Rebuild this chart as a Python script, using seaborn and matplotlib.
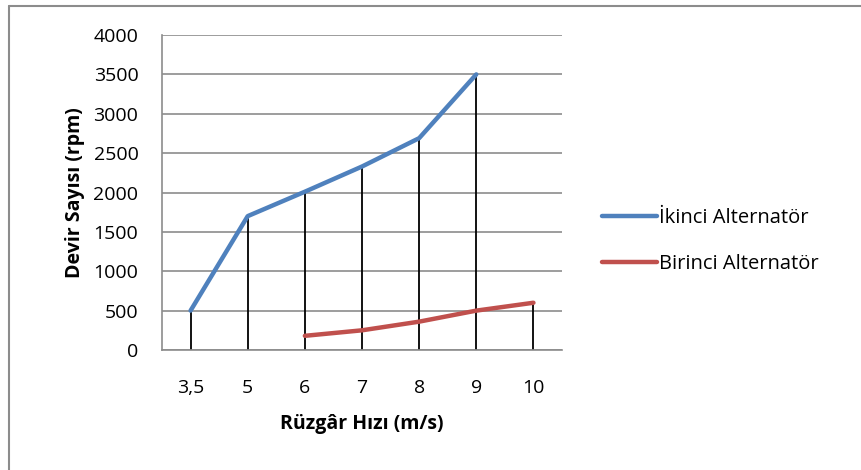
import pandas as pd
import matplotlib
matplotlib.use("Agg")
import matplotlib.pyplot as plt
import seaborn as sns

# --- Dados ---
categorias = ["3,5", "5", "6", "7", "8", "9", "10"]
ikinci = [500, 1700, 2010, 2330, 2690, 3500, None]
birinci = [None, None, 180, 250, 360, 500, 600]
series_nomes = ["İkinci Alternatör", "Birinci Alternatör"]
cores = ["#4F81BD", "#C0504D"]
y_ticks = [0, 500, 1000, 1500, 2000, 2500, 3000, 3500, 4000]

linhas = []
for nome, valores in zip(series_nomes, [ikinci, birinci]):
    for i, v in enumerate(valores):
        if v is not None:
            linhas.append({"pos": i, "valor": v, "serie": nome})
df = pd.DataFrame(linhas)

sns.set_theme(style="white")
plt.rcParams["font.family"] = ["Open Sans", "DejaVu Sans"]
plt.rcParams["text.color"] = "black"
plt.rcParams["axes.labelcolor"] = "black"
plt.rcParams["xtick.color"] = "black"
plt.rcParams["ytick.color"] = "black"

fig = plt.figure(figsize=(8.61, 4.70), dpi=100)
ax = fig.add_axes([162 / 861, 1 - 350 / 470, 400 / 861, 315 / 470])

# drop lines (linhas verticais até o eixo)
topo = df.groupby("pos")["valor"].max()
ax.vlines(topo.index, 0, topo.values, color="black", lw=1.3, zorder=2)

sns.lineplot(data=df, x="pos", y="valor", hue="serie", hue_order=series_nomes,
             palette=cores, lw=3.2, ax=ax, legend=False, zorder=3,
             solid_capstyle="round")

ax.set_xlim(-0.5, len(categorias) - 0.5)
ax.set_ylim(0, 4000)
ax.set_yticks(y_ticks)
ax.set_xticks(range(len(categorias)))
ax.set_xticklabels(categorias)
ax.yaxis.grid(True, color="#8c8c8c", lw=1.2)
ax.set_axisbelow(True)
for lado in ["top", "right"]:
    ax.spines[lado].set_visible(False)
for lado in ["left", "bottom"]:
    ax.spines[lado].set_color("#8c8c8c")
    ax.spines[lado].set_linewidth(1.2)
ax.tick_params(axis="y", length=5, color="#8c8c8c", width=1, labelsize=14, pad=12)
ax.tick_params(axis="x", length=0, labelsize=14, pad=21)

ax.set_xlabel("Rüzgâr Hızı (m/s)", fontsize=14, fontweight="bold", labelpad=12)
ax.set_ylabel("Devir Sayısı (rpm)", fontsize=14, fontweight="bold", labelpad=6)

handles = [plt.Line2D([], [], color=c, lw=3.2, solid_capstyle="round") for c in cores]
fig.legend(handles, series_nomes, loc="center left", bbox_to_anchor=(584 / 861, 1 - 241 / 470),
           frameon=False, fontsize=14.5, handlelength=2.7, handletextpad=0.1,
           labelspacing=1.3)

# borda da área do gráfico (só topo e esquerda visíveis)
borda = dict(transform=fig.transFigure, color="#8c8c8c", lw=1.5)
fig.add_artist(plt.Line2D([8.5 / 861, 1], [1 - 5.5 / 470, 1 - 5.5 / 470], **borda))
fig.add_artist(plt.Line2D([8.5 / 861, 8.5 / 861], [0, 1 - 5.5 / 470], **borda))

fig.savefig("out.png", dpi=100)
plt.close(fig)
